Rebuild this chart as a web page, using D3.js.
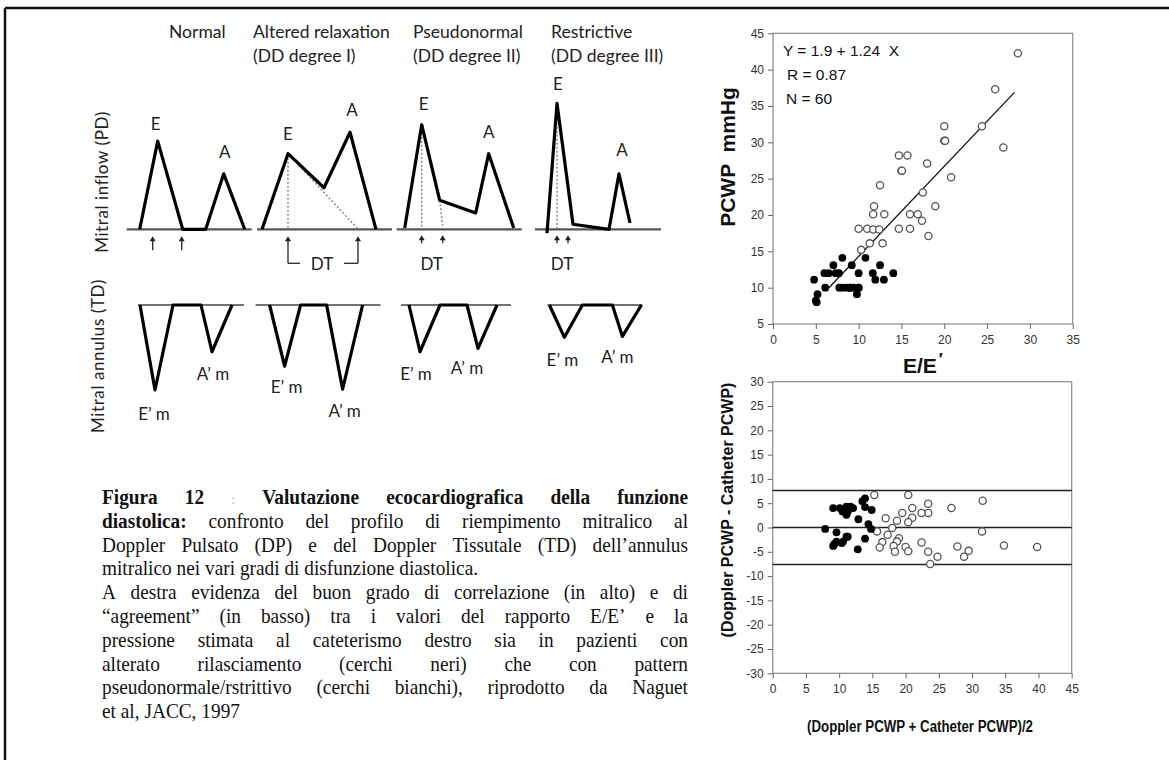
<!DOCTYPE html>
<html><head><meta charset="utf-8">
<script src="https://cdn.jsdelivr.net/npm/d3@7"></script>
<style>body{margin:0;background:#fff}svg{display:block}</style>
</head><body><svg id="c" width="1169" height="760"></svg>
<script>
// ================= DATA =================
const panelTitles = ["Normal", "Altered relaxation", "Pseudonormal", "Restrictive"];
const panelSubtitles = ["", "(DD degree I)", "(DD degree II)", "(DD degree III)"];

// Mitral inflow (PD): time from panel start, velocity (relative units)
const inflowT = [[13, 31, 56, 79, 97, 118], [5, 31, 67, 93, 119], [8, 25, 43, 79, 92, 117], [12, 22, 38, 74, 84, 95]];
const inflowV = [[0, 70, 0, 0, 44, 0], [0, 60, 33, 77, 0], [1, 83, 23, 13, 60, 1], [-3, 100, 4, 0, 44, 5]];
const inflowBaseLen = [125, 135, 125, 126];
const eLabelT = [29, 31, 27, 23], eLabelV = [84, 76, 100, 116];
const aLabelT = [98, 95, 92, 87], aLabelV = [62, 95, 78, 63];
const dtArrowT = [[26, 55], [31, 101], [25, 46], [22, 33]];
const dtLabelT = [null, 65, 35, 27];
const dtGuides = [[], [[31, 60, 31, 0], [31, 60, 100, 1]], [[25, 83, 25, 2], [43, 23, 46, 3]], [[22, 94, 22, 1]]];

// Mitral annulus (TD)
const tdT = [[2, 17, 35, 63, 74, 94], [14, 29, 45, 71, 87, 107], [8, 19, 39, 66, 77, 96], [2, 17, 35, 65, 75, 94]];
const tdV = [[0, -100, 0, 0, -55, 0], [0, -72, 0, 0, -99, 0], [0, -55, 0, 0, -51, 0], [0, -38, 0, 0, -37, 0]];
const tdBaseLen = [106, 125, 110, 95];
const emLabelT = [16, 31, 15, 15], emLabelV = [-128, -96, -80, -64];
const amLabelT = [75, 89, 66, 70], amLabelV = [-80, -124, -73, -60];

// Correlation plot (PCWP vs E/E')
const corrFilledX = [4.8, 5.2, 5.1, 5.0, 6.1, 6.0, 6.5, 7.05, 7.3, 7.7, 8.1, 7.75, 8.1, 8.6, 9.0, 9.4, 9.2, 9.8, 10.0, 10.0, 10.8, 11.65, 12.5, 11.95, 12.95, 14.05, 9.0, 10.0];
const corrFilledY = [11.1, 9.1, 8.0, 8.2, 10, 12, 12, 13.1, 12, 12, 14.1, 10, 10, 10, 10, 10, 13.1, 9.1, 12, 10, 14.1, 12, 13.1, 11.1, 11.1, 12, 10, 10];
const corrOpenX = [10.0, 11.0, 11.7, 12.4, 11.8, 11.7, 13.0, 12.5, 11.3, 10.3, 12.8, 14.7, 15.7, 15.0, 15.05, 14.7, 16.0, 16.0, 16.9, 17.4, 17.5, 18.0, 18.15, 28.6, 25.95, 26.9, 24.4, 20.0, 20.0, 20.1, 20.8, 18.95];
const corrOpenY = [18.1, 18.1, 18, 18, 21.2, 20.1, 20.1, 24.1, 16.1, 15.2, 16.1, 28.2, 28.2, 26.1, 26.1, 18.1, 18.1, 20.1, 20.1, 19.2, 23.1, 27.1, 17.1, 42.25, 37.3, 29.3, 32.2, 32.2, 30.2, 30.2, 25.2, 21.2];
const fitIntercept = 1.9, fitSlope = 1.24, fitXRange = [6.5, 28.2];
const corrXTicks = [0, 5, 10, 15, 20, 25, 30, 35];
const corrYTicks = [5, 10, 15, 20, 25, 30, 35, 40, 45];
const corrStats = ["Y = 1.9 + 1.24  X", "R = 0.87", "N = 60"];

// Bland-Altman plot
const baFilledX = [7.9, 9.1, 9.6, 9.1, 9.6, 10.1, 10.5, 11.1, 11.1, 11.3, 12.1, 10.6, 11.1, 11.3, 12.9, 12.8, 13.5, 13.9, 13.9, 13.9, 14.4, 14.8, 14.9, 11.7, 10.4, 9.3];
const baFilledY = [-0.3, 4.0, -1.0, -3.8, -2.9, 4.0, 3.3, 4.3, 2.6, 3.3, 4.0, -2.9, -1.9, -1.9, 1.7, -4.5, 5.4, 6.0, 4.2, -2.3, 0.7, -0.3, 3.6, 4.3, -3.2, -3.4];
const baOpenX = [15.3, 20.4, 23.4, 23.4, 26.9, 31.6, 19.5, 21.0, 21.0, 22.4, 20.4, 17.0, 18.7, 18.0, 15.7, 17.3, 19.0, 18.7, 16.5, 16.1, 18.2, 18.4, 20.0, 20.4, 22.4, 23.4, 23.7, 24.8, 27.8, 28.8, 29.5, 31.5, 34.8, 39.8];
const baOpenY = [6.7, 6.7, 4.9, 3.0, 4.0, 5.5, 3.0, 4.0, 2.0, 3.0, 1.1, 1.9, 1.4, -0.1, -0.8, -1.5, -2.2, -2.9, -3.0, -4.1, -3.8, -5.0, -4.0, -4.9, -3.1, -5.0, -7.5, -6.0, -3.9, -6.0, -4.8, -0.8, -3.7, -4.0];
const baLimits = [7.6, 0, -7.6];
const baXTicks = [0, 5, 10, 15, 20, 25, 30, 35, 40, 45];
const baYTicks = [-30, -25, -20, -15, -10, -5, 0, 5, 10, 15, 20, 25, 30];

// Caption (b = bold, g = grey mark)
const captionLines = [
  {j: true, w: [["Figura", "b"], ["12", "b"], [":", "g"], ["Valutazione", "b"], ["ecocardiografica", "b"], ["della", "b"], ["funzione", "b"]]},
  {j: true, w: [["diastolica:", "b"], "confronto", "del", "profilo", "di", "riempimento", "mitralico", "al"]},
  {j: true, w: ["Doppler", "Pulsato", "(DP)", "e", "del", "Doppler", "Tissutale", "(TD)", "dell’annulus"]},
  {j: false, w: ["mitralico", "nei", "vari", "gradi", "di", "disfunzione", "diastolica."]},
  {j: true, w: ["A", "destra", "evidenza", "del", "buon", "grado", "di", "correlazione", "(in", "alto)", "e", "di"]},
  {j: true, w: ["“agreement”", "(in", "basso)", "tra", "i", "valori", "del", "rapporto", "E/E’", "e", "la"]},
  {j: true, w: ["pressione", "stimata", "al", "cateterismo", "destro", "sia", "in", "pazienti", "con"]},
  {j: true, w: ["alterato", "rilasciamento", "(cerchi", "neri)", "che", "con", "pattern"]},
  {j: true, w: ["pseudonormale/rstrittivo", "(cerchi", "bianchi),", "riprodotto", "da", "Naguet"]},
  {j: false, w: ["et", "al,", "JACC,", "1997"]}
];

// ================= DRAWING =================
const svg = d3.select("#c");
const dFont = "Lato, 'Open Sans', sans-serif";
const aFont = "'Liberation Sans', Arial, sans-serif";
const sFont = "'Liberation Serif', 'Times New Roman', serif";

// outer frame (top and left)
svg.append("line").attr("x1", 5).attr("y1", 8).attr("x2", 1169).attr("y2", 8).attr("stroke", "#111").attr("stroke-width", 2.5);
svg.append("line").attr("x1", 5).attr("y1", 8).attr("x2", 5).attr("y2", 760).attr("stroke", "#111").attr("stroke-width", 2.5);

// ---- schematic diagrams ----
const titleX = [169, 253, 413, 551];
panelTitles.forEach((t, i) => {
  svg.append("text").attr("x", titleX[i]).attr("y", 38).attr("font-family", dFont).attr("font-size", 17.5).attr("fill", "#222").text(t);
  if (panelSubtitles[i]) svg.append("text").attr("x", titleX[i]).attr("y", 62).attr("font-family", dFont).attr("font-size", 17.5).attr("fill", "#222").text(panelSubtitles[i]);
});

svg.append("text").attr("transform", "translate(108,182) rotate(-90)").attr("text-anchor", "middle")
  .attr("font-family", dFont).attr("font-size", 17).attr("fill", "#222").attr("letter-spacing", 0.6).text("Mitral inflow (PD)");
svg.append("text").attr("transform", "translate(104,356) rotate(-90)").attr("text-anchor", "middle")
  .attr("font-family", dFont).attr("font-size", 17).attr("fill", "#222").attr("letter-spacing", 0.6).text("Mitral annulus (TD)");

const tScale = d3.scaleLinear().domain([0, 140]).range([0, 140]);
const yIn = d3.scaleLinear().domain([0, 100]).range([229.3, 103.3]);
const yTd = d3.scaleLinear().domain([0, -100]).range([305, 390]);
const inflowX0 = [126.7, 257, 396.7, 535];
const tdX0 = [138, 255.6, 401, 547.4];
const line = d3.line().x(d => tScale(d[0]));

function arrow(g, x, yTop, yBot) {
  g.append("line").attr("x1", x).attr("x2", x).attr("y1", yTop + 4).attr("y2", yBot).attr("stroke", "#333").attr("stroke-width", 1.4);
  g.append("path").attr("d", `M${x},${yTop} L${x - 3},${yTop + 5} L${x + 3},${yTop + 5} Z`).attr("fill", "#222");
}

panelTitles.forEach((_, i) => {
  const g = svg.append("g").attr("transform", `translate(${inflowX0[i]},0)`);
  g.append("line").attr("x1", tScale(0)).attr("x2", tScale(inflowBaseLen[i])).attr("y1", yIn(0)).attr("y2", yIn(0))
    .attr("stroke", "#555").attr("stroke-width", 2.2);
  dtGuides[i].forEach(s => {
    g.append("line").attr("x1", tScale(s[0])).attr("y1", yIn(s[1])).attr("x2", tScale(s[2])).attr("y2", yIn(s[3]))
      .attr("stroke", "#888").attr("stroke-width", 1.5).attr("stroke-dasharray", "2,2");
  });
  const pts = inflowT[i].map((t, k) => [t, inflowV[i][k]]);
  g.append("path").attr("d", line.y(d => yIn(d[1]))(pts)).attr("fill", "none").attr("stroke", "#000")
    .attr("stroke-width", 3.2).attr("stroke-linejoin", "round");
  g.append("text").attr("x", tScale(eLabelT[i])).attr("y", yIn(eLabelV[i])).attr("text-anchor", "middle").attr("dominant-baseline", "central")
    .attr("font-family", dFont).attr("font-size", 17).attr("fill", "#222").text("E");
  g.append("text").attr("x", tScale(aLabelT[i])).attr("y", yIn(aLabelV[i])).attr("text-anchor", "middle").attr("dominant-baseline", "central")
    .attr("font-family", dFont).attr("font-size", 17).attr("fill", "#222").text("A");
  // DT arrows
  const yb = yIn(0);
  dtArrowT[i].forEach((t, k) => {
    const x = tScale(t);
    if (i === 0) arrow(g, x, yb + 7, yb + 21);
    else if (i === 1) {
      arrow(g, x, yb + 7, yb + 34);
      const dx = k === 0 ? 12 : -14;
      g.append("line").attr("x1", x).attr("x2", x + dx).attr("y1", yb + 34).attr("y2", yb + 34).attr("stroke", "#333").attr("stroke-width", 1.4);
    } else arrow(g, x, yb + 6, yb + 14);
  });
  if (dtLabelT[i] !== null) g.append("text").attr("x", tScale(dtLabelT[i])).attr("y", yb + 34).attr("text-anchor", "middle")
    .attr("dominant-baseline", "central").attr("font-family", dFont).attr("font-size", 17).attr("fill", "#222").text("DT");

  // TD
  const h = svg.append("g").attr("transform", `translate(${tdX0[i]},0)`);
  h.append("line").attr("x1", tScale(0)).attr("x2", tScale(tdBaseLen[i])).attr("y1", yTd(0)).attr("y2", yTd(0))
    .attr("stroke", "#444").attr("stroke-width", 1.6);
  const tp = tdT[i].map((t, k) => [t, tdV[i][k]]);
  h.append("path").attr("d", line.y(d => yTd(d[1]))(tp)).attr("fill", "none").attr("stroke", "#000")
    .attr("stroke-width", 3.2).attr("stroke-linejoin", "round");
  h.append("text").attr("x", tScale(emLabelT[i])).attr("y", yTd(emLabelV[i])).attr("text-anchor", "middle").attr("dominant-baseline", "central")
    .attr("font-family", dFont).attr("font-size", 17).attr("fill", "#222").text("E’ m");
  h.append("text").attr("x", tScale(amLabelT[i])).attr("y", yTd(amLabelV[i])).attr("text-anchor", "middle").attr("dominant-baseline", "central")
    .attr("font-family", dFont).attr("font-size", 17).attr("fill", "#222").text("A’ m");
});

// ---- caption ----
const capX0 = 102, capX1 = 688, capY0 = 504, capDy = 23.8, capSx = 0.92;
const cap = svg.append("g").attr("transform", `translate(${capX0},0) scale(${capSx},1)`)
  .attr("font-family", sFont).attr("font-size", 21).attr("fill", "#111");
const capW = (capX1 - capX0) / capSx;
captionLines.forEach((ln, li) => {
  const y = capY0 + li * capDy;
  const nodes = ln.w.map(w => {
    const txt = Array.isArray(w) ? w[0] : w;
    const st = Array.isArray(w) ? w[1] : "";
    const t = cap.append("text").attr("y", y).text(txt);
    if (st === "b") t.attr("font-weight", "bold");
    if (st === "g") t.attr("fill", "#bbb").attr("font-size", 15);
    return t;
  });
  const widths = nodes.map(n => n.node().getComputedTextLength());
  const total = d3.sum(widths);
  const gap = ln.j ? (capW - total) / (nodes.length - 1) : 5.3;
  let x = 0;
  nodes.forEach((n, k) => { n.attr("x", x); x += widths[k] + gap; });
});

// ---- right side plots ----
function axisStyle(g) {
  g.selectAll("path.domain").remove();
  g.selectAll("line").attr("stroke", "#666");
  g.selectAll("text").attr("font-family", aFont).attr("font-size", 12).attr("fill", "#333");
}
const plain = d => String(d);

// Correlation plot
const cx = d3.scaleLinear().domain([0, 35]).range([773, 1072.7]);
const cy = d3.scaleLinear().domain([5, 45]).range([324, 33.3]);
svg.append("rect").attr("x", cx(0)).attr("y", cy(45)).attr("width", cx(35) - cx(0)).attr("height", cy(5) - cy(45))
  .attr("fill", "#fff").attr("stroke", "#8a8a8a").attr("stroke-width", 1.2);
svg.append("g").attr("transform", `translate(0,${cy(5)})`).call(d3.axisBottom(cx).tickValues(corrXTicks).tickFormat(plain).tickSize(5).tickPadding(6)).call(axisStyle);
svg.append("g").attr("transform", `translate(${cx(0)},0)`).call(d3.axisLeft(cy).tickValues(corrYTicks).tickFormat(plain).tickSize(5).tickPadding(4)).call(axisStyle);
svg.append("line").attr("x1", cx(fitXRange[0])).attr("y1", cy(fitIntercept + fitSlope * fitXRange[0]))
  .attr("x2", cx(fitXRange[1])).attr("y2", cy(fitIntercept + fitSlope * fitXRange[1])).attr("stroke", "#111").attr("stroke-width", 1.3);
svg.append("g").selectAll("circle").data(corrOpenX.map((x, i) => [x, corrOpenY[i]])).join("circle")
  .attr("cx", d => cx(d[0])).attr("cy", d => cy(d[1])).attr("r", 3.6).attr("fill", "#fff").attr("stroke", "#555").attr("stroke-width", 1.3);
svg.append("g").selectAll("circle").data(corrFilledX.map((x, i) => [x, corrFilledY[i]])).join("circle")
  .attr("cx", d => cx(d[0])).attr("cy", d => cy(d[1])).attr("r", 3.9).attr("fill", "#000");
const statY = [50, 74, 98], statX = [783, 787, 786];
corrStats.forEach((s, i) => svg.append("text").attr("x", statX[i]).attr("y", statY[i]).attr("dominant-baseline", "central")
  .attr("font-family", aFont).attr("font-size", 15.5).attr("fill", "#111").style("white-space", "pre").text(s));
svg.append("text").attr("transform", "translate(727,157) rotate(-90)").attr("text-anchor", "middle").attr("dominant-baseline", "central")
  .attr("font-family", aFont).attr("font-size", 21).attr("font-weight", "bold").attr("fill", "#111").style("white-space", "pre").text("PCWP  mmHg");
const eeLabel = svg.append("text").attr("x", 903).attr("y", 373)
  .attr("font-family", aFont).attr("font-size", 21).attr("font-weight", "bold").attr("fill", "#111");
eeLabel.append("tspan").text("E/E");
eeLabel.append("tspan").attr("dx", 2).attr("dy", -8).attr("font-size", 17).text("′");

// Bland-Altman plot
const bx = d3.scaleLinear().domain([0, 45]).range([772.7, 1071.7]);
const by = d3.scaleLinear().domain([-30, 30]).range([673.3, 381.7]);
svg.append("rect").attr("x", bx(0)).attr("y", by(30)).attr("width", bx(45) - bx(0)).attr("height", by(-30) - by(30))
  .attr("fill", "#fff").attr("stroke", "#8a8a8a").attr("stroke-width", 1.2);
svg.append("g").attr("transform", `translate(0,${by(-30)})`).call(d3.axisBottom(bx).tickValues(baXTicks).tickFormat(plain).tickSize(5).tickPadding(6)).call(axisStyle);
svg.append("g").attr("transform", `translate(${bx(0)},0)`).call(d3.axisLeft(by).tickValues(baYTicks).tickFormat(plain).tickSize(5).tickPadding(4)).call(axisStyle);
baLimits.forEach(v => svg.append("line").attr("x1", bx(0)).attr("x2", bx(45)).attr("y1", by(v)).attr("y2", by(v)).attr("stroke", "#222").attr("stroke-width", 1.5));
svg.append("g").selectAll("circle").data(baOpenX.map((x, i) => [x, baOpenY[i]])).join("circle")
  .attr("cx", d => bx(d[0])).attr("cy", d => by(d[1])).attr("r", 3.6).attr("fill", "#fff").attr("stroke", "#555").attr("stroke-width", 1.3);
svg.append("g").selectAll("circle").data(baFilledX.map((x, i) => [x, baFilledY[i]])).join("circle")
  .attr("cx", d => bx(d[0])).attr("cy", d => by(d[1])).attr("r", 3.9).attr("fill", "#000");
svg.append("text").attr("transform", "translate(727,510) rotate(-90)").attr("text-anchor", "middle").attr("dominant-baseline", "central")
  .attr("font-family", aFont).attr("font-size", 16).attr("font-weight", "bold").attr("fill", "#111").text("(Doppler PCWP - Catheter PCWP)");
svg.append("text").attr("x", 920).attr("y", 726).attr("text-anchor", "middle").attr("dominant-baseline", "central")
  .attr("font-family", aFont).attr("font-size", 16).attr("font-weight", "bold").attr("fill", "#111")
  .attr("textLength", 226).attr("lengthAdjust", "spacingAndGlyphs").text("(Doppler PCWP + Catheter PCWP)/2");
</script></body></html>
